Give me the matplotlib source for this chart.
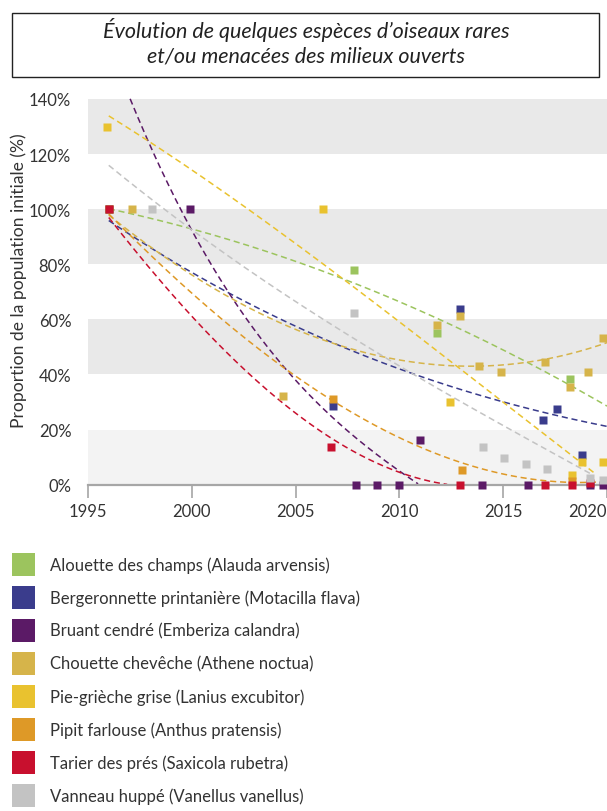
import matplotlib
matplotlib.use('Agg')
import matplotlib.pyplot as plt
import numpy as np
from matplotlib.patches import Rectangle

plt.rcParams['font.family'] = ['Lato', 'DejaVu Sans']

# ---------------- data ----------------
species = [
    "Alouette des champs (Alauda arvensis)",
    "Bergeronnette printanière (Motacilla flava)",
    "Bruant cendré (Emberiza calandra)",
    "Chouette chevêche (Athene noctua)",
    "Pie-grièche grise (Lanius excubitor)",
    "Pipit farlouse (Anthus pratensis)",
    "Tarier des prés (Saxicola rubetra)",
    "Vanneau huppé (Vanellus vanellus)",
]
colors = ["#9cc45e", "#3a3c8c", "#5b1a66", "#d6b44a",
          "#e9c22f", "#de9927", "#c8102e", "#c3c3c3"]

# observed points (year, % of initial population)
alouette_x = [1996.0, 2007.8, 2011.8, 2018.2]
alouette_y = [100, 78, 55, 38.2]
bergeronnette_x = [1996.0, 2006.8, 2012.9, 2016.9, 2017.6, 2018.8]
bergeronnette_y = [100, 28.7, 63.8, 23.6, 27.6, 10.9]
bruant_x = [1999.9, 2007.9, 2008.9, 2010.0, 2011.0, 2014.0, 2016.2, 2019.2, 2019.8]
bruant_y = [100, 0, 0, 0, 16.2, 0, 0, 0, 0]
chouette_x = [1997.1, 2004.4, 2011.8, 2012.9, 2013.85, 2014.9, 2017.0, 2018.2, 2019.1, 2019.8]
chouette_y = [100, 32.2, 58, 61.2, 43, 40.9, 44.5, 35.6, 40.9, 53.2]
pie_x = [1995.9, 2006.3, 2012.45, 2018.3, 2018.8, 2019.8]
pie_y = [130, 100, 30, 3.7, 8.3, 8.3]
pipit_x = [1996.0, 2006.8, 2013.0, 2018.3]
pipit_y = [100, 31.2, 5.4, 1.3]
tarier_x = [1996.0, 2006.7, 2012.9, 2017.0, 2018.3, 2019.2]
tarier_y = [100, 13.8, 0, 0, 0, 0.6]
vanneau_x = [1998.1, 2007.8, 2014.05, 2015.06, 2016.1, 2017.1, 2019.2, 2019.8]
vanneau_y = [100, 62.4, 13.8, 9.8, 7.6, 5.8, 2.4, 1.7]

# trend-line values
alouette_tx = [1996, 2001.7, 2005.2, 2007.15, 2012.05, 2015.2, 2016.8, 2018.4, 2020]
alouette_ty = [100, 89.5, 80.8, 74.6, 59.2, 48, 42.6, 35.7, 28]
bergeronnette_tx = [1996, 1999.7, 2000.4, 2001.84, 2005.2, 2008.4, 2012, 2013.6, 2015.2, 2016.8, 2018.4, 2020]
bergeronnette_ty = [96.2, 78.3, 74.6, 69.2, 57.1, 47.5, 36.6, 32.9, 29.3, 26.3, 23.8, 21.4]
bruant_tx = [1997.03, 1997.83, 1998.8, 1999.44, 2000.24, 2001.36, 2001.7, 2004.43, 2005.2, 2006.83, 2008.4, 2010.0, 2010.9]
bruant_ty = [140.6, 124.3, 111, 100, 89.5, 74.7, 71, 42, 35.4, 25, 14.2, 5.1, 0]
chouette_tx = [1996, 1999.7, 2002, 2004.9, 2008.4, 2010, 2012, 2013.6, 2015.2, 2016.8, 2018.4, 2020]
chouette_ty = [98, 78, 65.6, 57.7, 48, 45.6, 43.6, 42.6, 43.2, 45, 48.1, 51.7]
pie_tx = [1996, 1997.83, 2004.6, 2005.2, 2007.6, 2009.2, 2012.1, 2015.2, 2018.1, 2019.45]
pie_ty = [134, 124.9, 89.5, 86.8, 72.8, 63.8, 46.8, 28.7, 11.8, 3.9]
pipit_tx = [1996, 1997.8, 1999.43, 2002, 2004.9, 2006.83, 2009.25, 2012, 2013.6, 2015.2, 2016.8, 2018.4, 2019.6]
pipit_ty = [97.6, 85.5, 74.6, 55.3, 39.6, 30.5, 20.2, 10.8, 6.3, 3.5, 1.7, 0.9, 0.9]
tarier_tx = [1996, 1998.5, 2000.4, 2002.65, 2005.1, 2006.83, 2008.44, 2010.05, 2012.3]
tarier_ty = [97, 73.3, 59, 41, 24, 16.6, 10.5, 4.1, 0]
vanneau_tx = [1996, 1997.83, 2000.4, 2003.6, 2005.2, 2007.6, 2010, 2012.2, 2014.9, 2017.3, 2019.2]
vanneau_ty = [114.8, 106.7, 90.4, 72.8, 64.4, 54.6, 44.4, 32, 22.6, 11.8, 3.9]

points = [(alouette_x, alouette_y), (bergeronnette_x, bergeronnette_y), (bruant_x, bruant_y),
          (chouette_x, chouette_y), (pie_x, pie_y), (pipit_x, pipit_y),
          (tarier_x, tarier_y), (vanneau_x, vanneau_y)]
trends = [(alouette_tx, alouette_ty), (bergeronnette_tx, bergeronnette_ty), (bruant_tx, bruant_ty),
          (chouette_tx, chouette_ty), (pie_tx, pie_ty), (pipit_tx, pipit_ty),
          (tarier_tx, tarier_ty), (vanneau_tx, vanneau_ty)]

years_ticks = [1995, 2000, 2005, 2010, 2015, 2020]
pct_ticks = [0, 20, 40, 60, 80, 100, 120, 140]

# ---------------- figure ----------------
W, H = 607, 812
fig = plt.figure(figsize=(W / 100, H / 100), dpi=100)


def fx(px):
    return px / W


def fy(py):
    return 1 - py / H


ax = fig.add_axes([fx(88), fy(485.7), fx(607) - fx(88), fy(97.2) - fy(485.7)])
ax.set_xlim(1995, 2020)
ax.set_ylim(0, 141)

# background bands
ax.axhspan(0, 20, color="#f3f3f3", zorder=0, lw=0)
for lo in (40, 80, 120):
    ax.axhspan(lo, lo + 20, color="#e9e9e9", zorder=0, lw=0)

for i, ((tx, ty), col) in enumerate(zip(trends, colors)):
    c = np.polyfit(tx, ty, 3)
    xx = np.linspace(tx[0], tx[-1], 300)
    yy = np.polyval(c, xx)
    yy = np.where(yy < 0, np.nan, yy)
    ax.plot(xx, yy, color=col, lw=1.1, linestyle=(0, (4, 2.5)), zorder=2)

for i, ((px, py), col) in enumerate(zip(points, colors)):
    ax.plot(px, py, 's', color=col, ms=6, mec='none', clip_on=False, zorder=5 + i)

for s in ("top", "right", "left"):
    ax.spines[s].set_visible(False)
ax.spines["bottom"].set_color("#a6a6a6")
ax.spines["bottom"].set_linewidth(1.6)
ax.spines["bottom"].set_zorder(4)

ax.set_xticks(years_ticks)
ax.set_xticklabels([str(y) for y in years_ticks])
ax.set_yticks(pct_ticks)
ax.set_yticklabels([f"{p}%" for p in pct_ticks])
ax.tick_params(axis="x", direction="out", length=9, width=1.2, color="#a6a6a6",
               labelsize=12, labelcolor="#333333", pad=4)
ax.tick_params(axis="y", length=0, labelsize=12, labelcolor="#333333", pad=12)
# keep the last year label inside the picture, as in the reference
ax.get_xticklabels()[-1].set_horizontalalignment("right")
ax.get_xticklabels()[-1].set_x(2020.5)

fig.text(fx(19), fy(281), "Proportion de la population initiale (%)", rotation=90,
         ha="center", va="center", fontsize=12.6, color="#333333")

# title box
fig.patches.append(Rectangle((fx(12), fy(78)), fx(599) - fx(12), fy(14) - fy(78),
                             transform=fig.transFigure, fill=False, ec="#222222", lw=1.0))
fig.text(fx(306), fy(30), "Évolution de quelques espèces d’oiseaux rares", ha="center",
         va="center", fontsize=15.5, style="italic", color="#222222")
fig.text(fx(306), fy(57), "et/ou menacées des milieux ouverts", ha="center",
         va="center", fontsize=15.5, style="italic", color="#222222")

# legend
for i, (name, col) in enumerate(zip(species, colors)):
    yc = 565.7 + 33 * i
    fig.patches.append(Rectangle((fx(12), fy(yc + 11.5)), fx(23), 23 / H,
                                 transform=fig.transFigure, color=col, lw=0))
    fig.text(fx(50), fy(yc), name, ha="left", va="center", fontsize=12, color="#333333")

fig.savefig("out.png", dpi=100)
